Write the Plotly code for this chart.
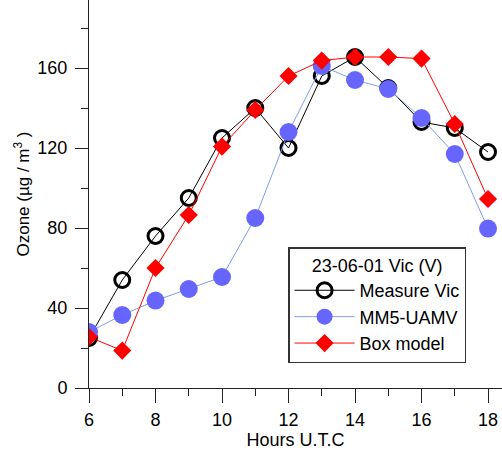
import plotly.graph_objects as go

hours = [6, 7, 8, 9, 10, 11, 12, 13, 14, 15, 16, 17, 18]
measure_vic = [25, 54, 76, 95, 125, 140, 120, 156, 165.5, 150, 133, 130, 118]
mm5_uamv = [28, 36.5, 43.7, 49.5, 55.5, 85, 128, 161, 154, 149.5, 135, 117, 79.7]
box_model = [25.5, 18.7, 60, 86.5, 120.7, 139, 156, 163.7, 165.5, 165.5, 164.7, 132, 94.5]

x_ticks = [6, 8, 10, 12, 14, 16, 18]
y_ticks = [0, 40, 80, 120, 160]

FONT = "Liberation Sans, Arial, sans-serif"
FS = 18

fig = go.Figure()
fig.add_trace(go.Scatter(
    x=hours, y=measure_vic, name="Measure Vic", mode="lines+markers",
    line=dict(color="black", width=1),
    marker=dict(symbol="circle-open", size=15, color="black", line=dict(width=3)),
))
fig.add_trace(go.Scatter(
    x=hours, y=mm5_uamv, name="MM5-UAMV", mode="lines+markers",
    line=dict(color="#7aa0ef", width=1),
    marker=dict(symbol="circle", size=18, color="#6666ff"),
))
fig.add_trace(go.Scatter(
    x=hours, y=box_model, name="Box model", mode="lines+markers",
    line=dict(color="#ff0000", width=1),
    marker=dict(symbol="diamond", size=14, color="#ff0000"),
))

axis_common = dict(
    showgrid=False, zeroline=False, showline=True, linecolor="#222222", linewidth=1,
    ticks="outside", tickcolor="#222222", tickwidth=1,
    tickfont=dict(family=FONT, size=FS, color="black"),
    minor=dict(ticks="outside", ticklen=7, tickcolor="#222222", tickwidth=1),
)

fig.update_xaxes(
    range=[6, 18.42], tickvals=x_ticks, ticktext=[str(v) for v in x_ticks],
    minor_dtick=1, minor_tick0=6, ticklen=14, ticklabelstandoff=1,
    title=dict(text="Hours U.T.C", font=dict(family=FONT, size=FS, color="black"), standoff=2),
    **axis_common,
)
fig.update_yaxes(
    range=[0, 194], tickvals=y_ticks, ticktext=[str(v) for v in y_ticks],
    minor_dtick=20, minor_tick0=0, ticklen=13, ticklabelstandoff=4,
    title=dict(text="Ozone (µg / m<sup>3</sup> )", font=dict(family=FONT, size=17, color="black"), standoff=3),
    **axis_common,
)

fig.update_layout(
    width=502, height=450,
    margin=dict(l=89, r=0, t=0, b=62),
    paper_bgcolor="white", plot_bgcolor="white",
    font=dict(family=FONT, size=FS, color="black"),
    legend=dict(
        x=0.482, y=0.363, xanchor="left", yanchor="top",
        bgcolor="white", bordercolor="#333333", borderwidth=1.5,
        title=dict(text="23-06-01 Vic (V)", side="top center", font=dict(size=FS)),
        font=dict(family=FONT, size=FS, color="black"),
        itemwidth=60, tracegroupgap=0,
    ),
)

fig.write_html("out.html")
